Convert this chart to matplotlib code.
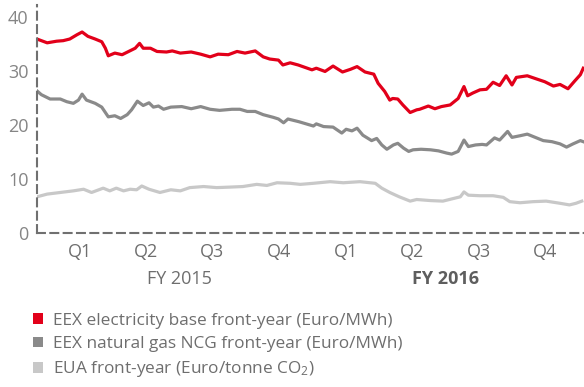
import matplotlib
matplotlib.use("Agg")
import matplotlib.pyplot as plt
import matplotlib.transforms as mtransforms
from matplotlib.patches import Patch
import pandas as pd

plt.rcParams["font.family"] = ["Open Sans", "DejaVu Sans"]
plt.rcParams["mathtext.default"] = "regular"

# days counted from 1 Jan 2015
power_days = [-14, 0, 13, 22, 31, 41, 48, 56, 66, 75, 80, 84, 93, 103, 112, 121, 127, 132, 142, 151,
              164, 172, 183, 198, 211, 224, 235, 249, 261, 272, 286, 297, 306, 318, 324, 334, 345, 364, 370, 382,
              393, 406, 417, 426, 437, 449, 455, 464, 471, 475, 482, 489, 499, 508, 512, 524, 533, 542, 554, 565,
              573, 578, 585, 595, 604, 613, 622, 631, 639, 645, 660, 673, 684, 696, 705, 716, 725, 733, 737]
power = [35.9, 35.2, 35.5, 35.6, 35.9, 36.7, 37.2, 36.4, 35.9, 35.4, 34.2, 32.8, 33.3, 33.0, 33.6, 34.2, 35.1, 34.2, 34.2, 33.6,
         33.5, 33.7, 33.3, 33.5, 33.1, 32.6, 33.1, 33.0, 33.6, 33.3, 33.7, 32.6, 32.2, 32.0, 31.1, 31.5, 31.1, 30.2, 30.5, 29.9,
         30.9, 29.8, 30.3, 30.8, 29.8, 29.4, 27.7, 26.2, 24.6, 24.9, 24.8, 23.7, 22.3, 22.8, 22.9, 23.5, 23.0, 23.4, 23.7, 24.9,
         27.1, 25.4, 25.9, 26.5, 26.6, 27.9, 27.3, 29.1, 27.4, 28.8, 29.1, 28.5, 28.0, 27.2, 27.5, 26.7, 28.1, 29.3, 30.5]

gas_days = [-14, -8, 4, 18, 27, 36, 43, 48, 54, 66, 75, 84, 93, 101, 110, 116, 124, 132, 140, 146,
            153, 160, 170, 185, 198, 211, 224, 237, 254, 265, 275, 286, 297, 311, 318, 325, 331, 346, 366, 370,
            380, 393, 405, 411, 419, 426, 434, 446, 453, 460, 467, 476, 482, 490, 497, 503, 514, 527, 538, 549,
            556, 565, 570, 573, 579, 589, 598, 604, 615, 622, 633, 639, 650, 660, 671, 682, 694, 705, 714, 723,
            733, 737]
gas = [26.3, 25.6, 24.8, 24.8, 24.3, 24.0, 24.6, 25.7, 24.6, 24.0, 23.3, 21.5, 21.7, 21.2, 21.9, 22.8, 24.4, 23.6, 24.1, 23.3,
       23.5, 22.9, 23.3, 23.4, 23.0, 23.4, 22.9, 22.7, 22.9, 22.9, 22.5, 22.5, 21.9, 21.4, 21.1, 20.4, 21.1, 20.6, 19.8, 20.2,
       19.7, 19.6, 18.5, 19.2, 18.9, 19.4, 18.1, 17.1, 17.5, 16.3, 15.5, 16.3, 16.6, 15.7, 15.1, 15.4, 15.5, 15.4, 15.2, 14.8,
       14.6, 15.1, 16.4, 17.2, 16.0, 16.3, 16.4, 16.3, 17.6, 17.2, 18.8, 17.7, 18.0, 18.3, 17.7, 17.1, 16.9, 16.5, 15.9, 16.5,
       17.1, 16.9]

eua_days = [-14, 0, 18, 36, 50, 61, 77, 86, 95, 105, 114, 123, 130, 140, 155, 170, 183, 196, 215, 233,
            252, 269, 288, 302, 316, 334, 348, 366, 389, 407, 430, 451, 460, 471, 484, 499, 508, 527, 544, 559,
            568, 573, 579, 595, 613, 627, 636, 650, 668, 686, 705, 718, 727, 735]
eua = [6.7, 7.2, 7.5, 7.8, 8.1, 7.5, 8.3, 7.8, 8.3, 7.8, 8.1, 8.0, 8.7, 8.1, 7.5, 8.0, 7.8, 8.4, 8.6, 8.4,
       8.5, 8.6, 9.0, 8.8, 9.3, 9.2, 9.0, 9.2, 9.5, 9.3, 9.5, 9.2, 8.3, 7.5, 6.7, 5.9, 6.2, 6.0, 5.9, 6.4,
       6.7, 7.6, 7.0, 6.9, 6.9, 6.6, 5.8, 5.6, 5.8, 5.9, 5.5, 5.2, 5.5, 5.9]

quarters = ["Q1", "Q2", "Q3", "Q4", "Q1", "Q2", "Q3", "Q4"]
years = ["FY 2015", "FY 2016"]
labels = ["EEX electricity base front-year (Euro/MWh)",
          "EEX natural gas NCG front-year (Euro/MWh)",
          "EUA front-year (Euro/tonne CO$_2$)"]
colors = ["#e2001a", "#8a8a8a", "#c8c8c8"]

base = pd.Timestamp("2015-01-01")
def to_dates(days):
    return base + pd.to_timedelta(days, unit="D")

fig = plt.figure(figsize=(5.84, 3.87), dpi=100)
ax = fig.add_axes([37 / 584, 1 - 233 / 387, 1 - 37 / 584, 228 / 387])

ax.plot(to_dates(eua_days), eua, color=colors[2], lw=2.3, solid_joinstyle="round")
ax.plot(to_dates(gas_days), gas, color=colors[1], lw=2.3, solid_joinstyle="round")
ax.plot(to_dates(power_days), power, color=colors[0], lw=2.3, solid_joinstyle="round")

ax.set_xlim(base - pd.Timedelta(days=14), base + pd.Timedelta(days=738))
ax.set_ylim(0, 42.2)

for side in ["top", "right"]:
    ax.spines[side].set_visible(False)
for side in ["left", "bottom"]:
    ax.spines[side].set_color("#707070")
    ax.spines[side].set_linewidth(1.5)
    ax.spines[side].set_linestyle((0, (3.8, 2.6)))

ax.set_yticks([0, 10, 20, 30, 40])
ax.tick_params(axis="y", length=0, pad=6, labelsize=13, labelcolor="#858585")

# quarter labels in the middle of each quarter
q_starts = pd.date_range("2015-01-01", periods=9, freq="QS")
q_mid = [q_starts[i] + (q_starts[i + 1] - q_starts[i]) / 2 for i in range(8)]
ax.set_xticks(q_mid)
ax.set_xticklabels(quarters)
ax.tick_params(axis="x", length=0, pad=7, labelsize=13, labelcolor="#6e6e6e")

trans = mtransforms.blended_transform_factory(ax.transData, ax.transAxes)
ax.text(pd.Timestamp("2015-07-02"), -0.2, years[0], transform=trans, ha="center", va="center",
        fontsize=13, color="#6e6e6e")
ax.text(pd.Timestamp("2016-07-02"), -0.2, years[1], transform=trans, ha="center", va="center",
        fontsize=13, color="#5e5e5e", fontweight="bold")

handles = [Patch(facecolor=c, edgecolor="none") for c in colors]
fig.legend(handles, labels, loc="upper left", bbox_to_anchor=(26 / 584, 1 - 306 / 387),
           frameon=False, fontsize=12.4, labelcolor="#6e6e6e", handlelength=0.58, handleheight=0.58,
           handletextpad=0.6, labelspacing=0.42, borderaxespad=0)

fig.savefig("out.png", dpi=100)
